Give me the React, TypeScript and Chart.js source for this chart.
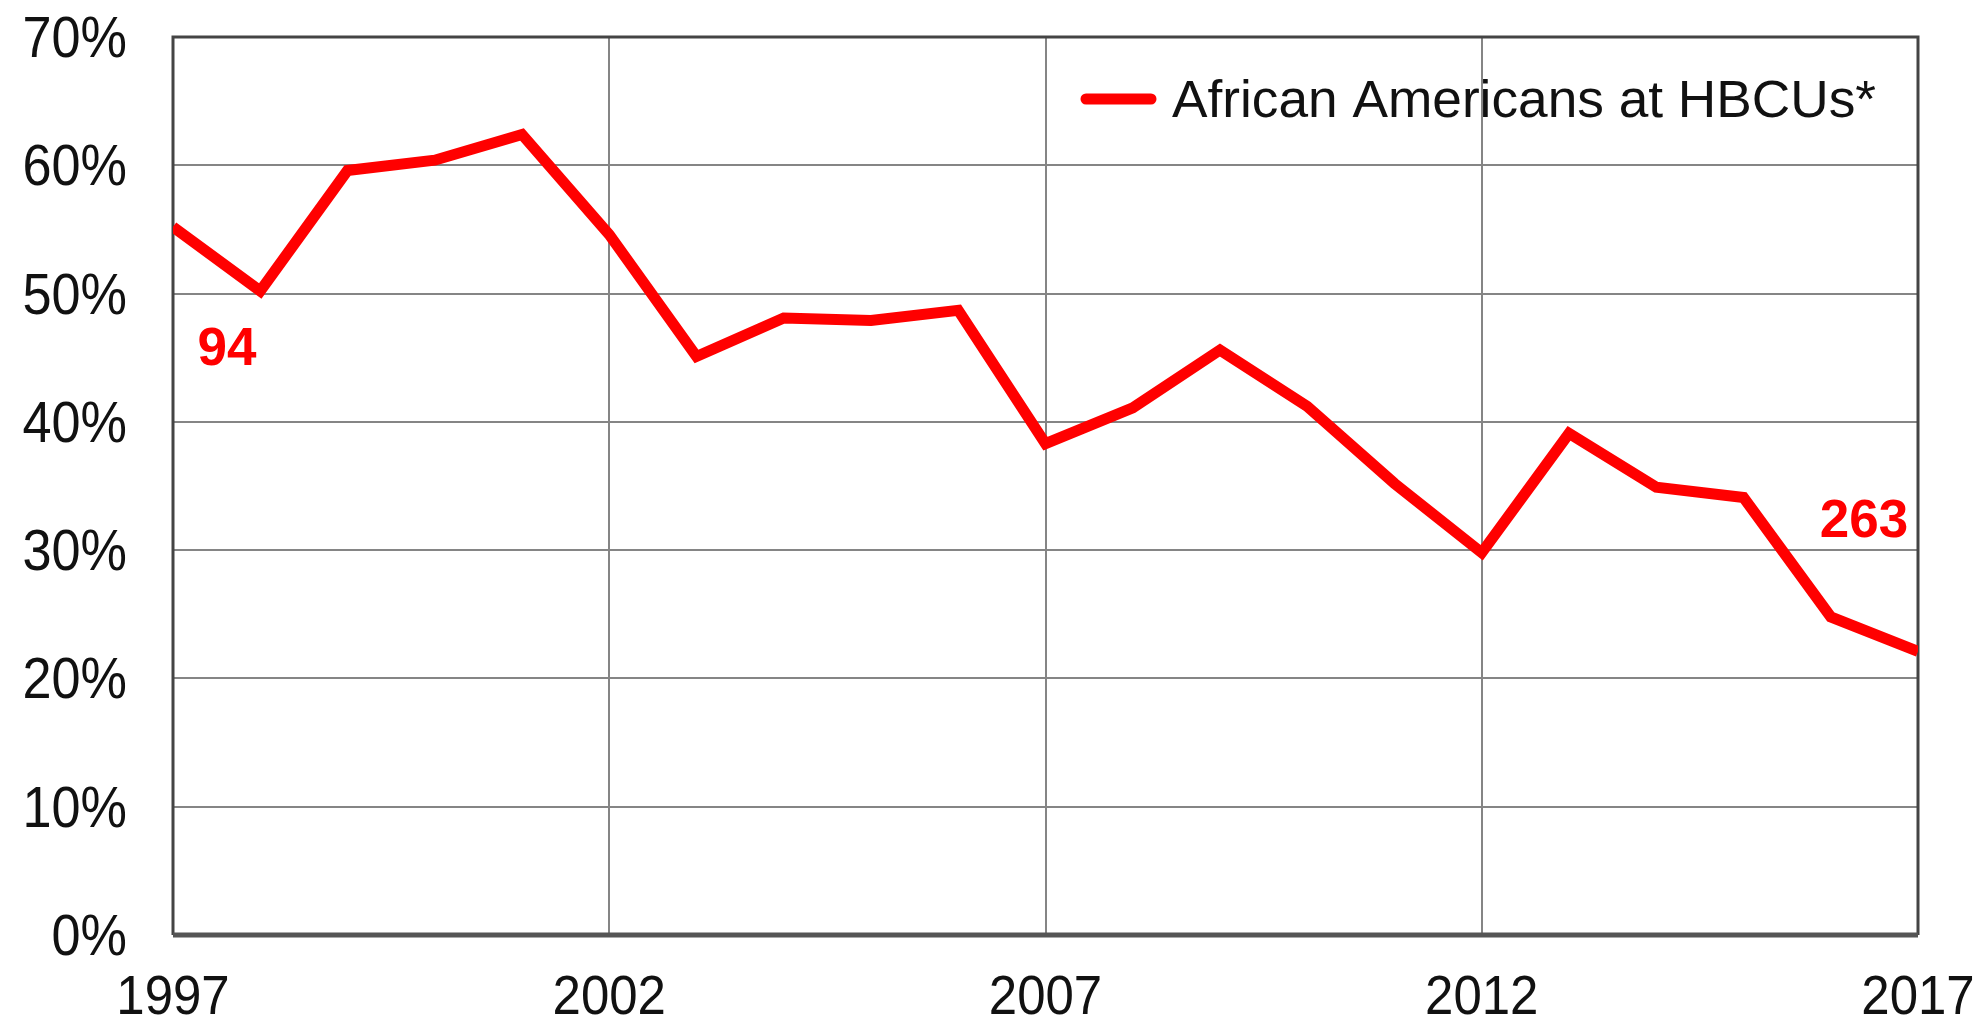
import React, { useEffect, useRef } from "react";
import { Chart, registerables } from "chart.js";

Chart.register(...registerables);

const years: number[] = [1997, 1998, 1999, 2000, 2001, 2002, 2003, 2004, 2005, 2006, 2007, 2008, 2009, 2010, 2011, 2012, 2013, 2014, 2015, 2016, 2017];
const shares: number[] = [55.2, 50.2, 59.6, 60.4, 62.4, 54.6, 45.1, 48.1, 47.9, 48.7, 38.3, 41.1, 45.6, 41.2, 35.2, 29.8, 39.1, 34.9, 34.1, 24.8, 22.1];
const seriesLabel = "African Americans at HBCUs*";
const xTickYears: number[] = [1997, 2002, 2007, 2012, 2017];
const yTickValues: number[] = [0, 10, 20, 30, 40, 50, 60, 70];
const noteTexts: string[] = ["94", "263"];
const noteX: number[] = [1997.62, 2016.38];
const noteY: number[] = [45.9, 32.5];

const FONT = "'Liberation Sans', Arial, sans-serif";

function drawScaledText(ctx: any, text: string, x: number, y: number, sx: number, align: string) {
  ctx.save();
  ctx.translate(x, y);
  ctx.scale(sx, 1);
  ctx.textAlign = align;
  ctx.textBaseline = "alphabetic";
  ctx.fillText(text, 0, 0);
  ctx.restore();
}

export default function App() {
  const ref = useRef<HTMLCanvasElement | null>(null);

  useEffect(() => {
    document.body.style.margin = "0";
    const canvas = ref.current!;
    const overlay = {
      id: "overlay",
      beforeDatasetsDraw(chart: any) {
        const ctx = chart.ctx;
        const a = chart.chartArea;
        ctx.save();
        ctx.strokeStyle = "#444";
        ctx.lineWidth = 3;
        ctx.beginPath();
        ctx.moveTo(a.left, a.bottom);
        ctx.lineTo(a.left, a.top);
        ctx.lineTo(a.right, a.top);
        ctx.lineTo(a.right, a.bottom);
        ctx.stroke();
        ctx.strokeStyle = "#555";
        ctx.lineWidth = 5;
        ctx.beginPath();
        ctx.moveTo(a.left, a.bottom);
        ctx.lineTo(a.right, a.bottom);
        ctx.stroke();
        ctx.restore();
      },
      afterDatasetsDraw(chart: any) {
        const ctx = chart.ctx;
        const xs = chart.scales.x;
        const ys = chart.scales.y;
        const a = chart.chartArea;
        ctx.save();
        ctx.fillStyle = "#111";
        ctx.font = `58px ${FONT}`;
        yTickValues.forEach((v) => {
          drawScaledText(ctx, v + "%", a.left - 46, ys.getPixelForValue(v) + 20, 0.9, "right");
        });
        ctx.font = `56px ${FONT}`;
        xTickYears.forEach((v) => {
          drawScaledText(ctx, String(v), xs.getPixelForValue(v), 1014, 0.91, "center");
        });
        ctx.fillStyle = "#ff0000";
        ctx.font = `bold 53px ${FONT}`;
        ctx.textAlign = "center";
        ctx.textBaseline = "alphabetic";
        noteTexts.forEach((t, i) => {
          ctx.fillText(t, xs.getPixelForValue(noteX[i]), ys.getPixelForValue(noteY[i]) + 19);
        });
        const lx = a.left + 913;
        const ly = 99;
        ctx.strokeStyle = "#ff0000";
        ctx.lineWidth = 11;
        ctx.lineCap = "round";
        ctx.beginPath();
        ctx.moveTo(lx, ly);
        ctx.lineTo(lx + 65, ly);
        ctx.stroke();
        ctx.fillStyle = "#111";
        ctx.font = `51px ${FONT}`;
        const label = chart.data.datasets[0].label;
        const w = ctx.measureText(label).width;
        const sx = Math.min(1.1, 704 / w);
        drawScaledText(ctx, label, lx + 86, 117, sx, "left");
        ctx.restore();
      },
    };

    const chart = new Chart(canvas, {
      type: "line",
      data: {
        datasets: [
          {
            label: seriesLabel,
            data: years.map((y, i) => ({ x: y, y: shares[i] })),
            borderColor: "#ff0000",
            borderWidth: 11,
            pointRadius: 0,
            tension: 0,
            fill: false,
            borderJoinStyle: "miter",
          },
        ],
      },
      options: {
        animation: false,
        responsive: false,
        devicePixelRatio: 1,
        layout: { padding: { top: 37, right: 69, left: 0, bottom: 0 } },
        plugins: { legend: { display: false }, tooltip: { enabled: false } },
        scales: {
          x: {
            type: "linear",
            min: 1997,
            max: 2017,
            afterBuildTicks: (s: any) => {
              s.ticks = xTickYears.map((v) => ({ value: v }));
            },
            afterFit: (s: any) => {
              s.height = 88;
              s.paddingLeft = 0;
              s.paddingRight = 0;
            },
            ticks: { display: false },
            grid: {
              color: (c: any) => (c.tick && (c.tick.value === 1997 || c.tick.value === 2017) ? "rgba(0,0,0,0)" : "#858585"),
              lineWidth: 2,
              drawTicks: false,
            },
            border: { display: false },
          },
          y: {
            min: 0,
            max: 70,
            afterBuildTicks: (s: any) => {
              s.ticks = yTickValues.map((v) => ({ value: v }));
            },
            afterFit: (s: any) => {
              s.width = 173;
              s.paddingTop = 0;
              s.paddingBottom = 0;
            },
            ticks: { display: false },
            grid: {
              color: (c: any) => (c.tick && (c.tick.value === 0 || c.tick.value === 70) ? "rgba(0,0,0,0)" : "#858585"),
              lineWidth: 2,
              drawTicks: false,
            },
            border: { display: false },
          },
        },
      },
      plugins: [overlay],
    } as any);
    return () => chart.destroy();
  }, []);

  return (
    <div style={{ width: 1987, height: 1023, background: "#fff", position: "relative" }}>
      <canvas ref={ref} width={1987} height={1023} style={{ display: "block" }} />
    </div>
  );
}
